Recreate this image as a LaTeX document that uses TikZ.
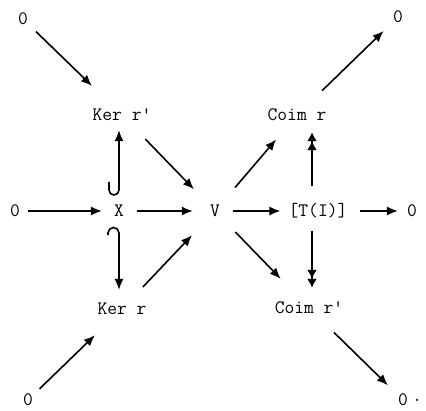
\documentclass[tikz,border=0pt]{standalone}
\usepackage{fontspec}
\usetikzlibrary{arrows.meta}
\tikzset{
  obj/.style={font=\ttfamily\fontsize{19}{21}\selectfont,inner sep=0pt},
  map/.style={line width=1.6pt,-{Latex[length=11pt,width=9pt]}},
  epi/.style={line width=1.6pt,-{Latex[length=9pt,width=10pt]Latex[length=9pt,width=10pt]}}
}
\begin{document}
\begin{tikzpicture}[x=1pt,y=1pt]
\useasboundingbox (0,0) rectangle (426,410);
% objects
\node[obj] (o1) at (23,391) {0};
\node[obj] (o2) at (398,393) {0};
\node[obj] (kerp) at (122,295) {Ker r'};
\node[obj] (coim) at (297,295) {Coim r};
\node[obj] (o0) at (15,199) {0};
\node[obj] (x) at (119,199) {X};
\node[obj] (v) at (215,199) {V};
\node[obj] (t) at (318,199) {[T(I)]};
\node[obj] (o5) at (412,199) {0};
\node[obj] (ker) at (122,101) {Ker r};
\node[obj] (coimp) at (309,102) {Coim r'};
\node[obj] (o3) at (28,10) {0};
\node[obj,label={[obj,label distance=4pt]right:.}] (o4) at (403,10) {0};
% outer zeros
\draw[map,shorten <=11pt,shorten >=33pt] (o1) -- (kerp);
\draw[map,shorten <=9pt,shorten >=29pt] (o3) -- (ker);
\draw[map,shorten <=26pt,shorten >=13pt] (coim) -- (o2);
\draw[map,shorten <=26pt,shorten >=14pt] (coimp) -- (o4);
% middle row
\draw[map,shorten <=8pt,shorten >=12pt] (o0) -- (x);
\draw[map,shorten <=13pt,shorten >=17pt] (x) -- (v);
\draw[map,shorten <=13pt,shorten >=8pt] (v) -- (t);
\draw[map,shorten <=12pt,shorten >=9pt] (t) -- (o5);
% into and out of V
\draw[map,shorten <=25pt,shorten >=23pt] (kerp) -- (v);
\draw[map,shorten <=22pt,shorten >=26pt] (ker) -- (v);
\draw[map,shorten <=23pt,shorten >=24pt] (v) -- (coim);
\draw[map,shorten <=22pt,shorten >=32pt] (v) -- (coimp);
% inclusions
\draw[map,shorten >=9pt] ([xshift=-10pt,yshift=23pt]x.north) -- ++(0,-8pt)
  arc[start angle=180,end angle=360,radius=5pt] -- (x.north |- kerp.south);
\draw[map,shorten >=13pt] ([xshift=-11pt,yshift=-18pt]x.south) -- ++(0,2pt)
  arc[start angle=180,end angle=0,radius=5.5pt] -- (x.south |- ker.north);
% projections
\draw[epi,shorten <=17pt,shorten >=11pt] ([xshift=-6pt]t.north) -- ([xshift=-6pt]t.north |- coim.south);
\draw[epi,shorten <=12pt,shorten >=14pt] ([xshift=-6pt]t.south) -- ([xshift=-6pt]t.south |- coimp.north);
\end{tikzpicture}
\end{document}
